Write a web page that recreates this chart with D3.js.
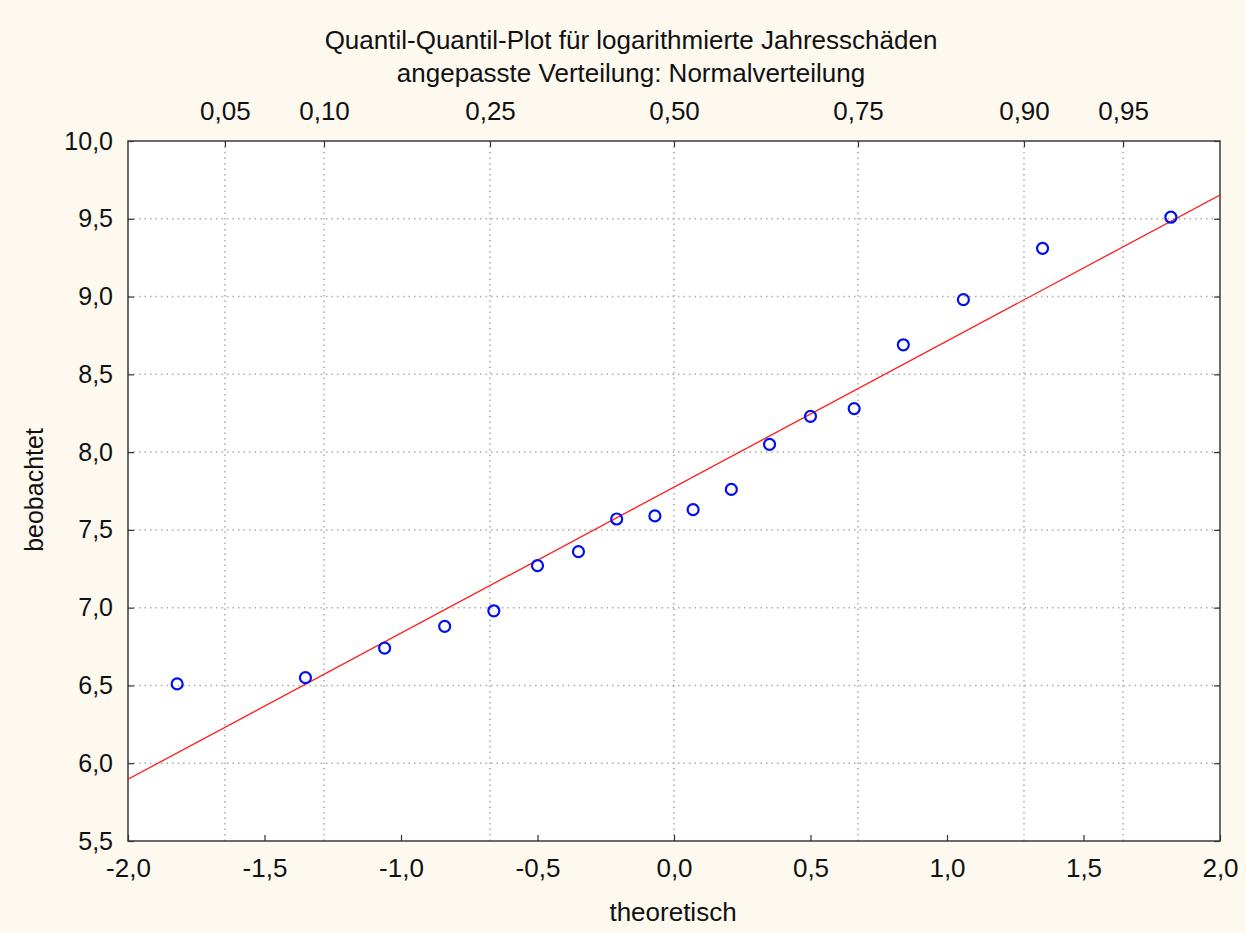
<!DOCTYPE html>
<html>
<head>
<meta charset="utf-8">
<script src="https://cdn.jsdelivr.net/npm/d3@7/dist/d3.min.js"></script>
<style>
  html, body { margin: 0; padding: 0; background: #fdf9ef; }
  svg { display: block; }
  text { font-family: "Liberation Sans", Arial, sans-serif; fill: #111; }
</style>
</head>
<body>
<svg id="chart" width="1246" height="933"></svg>
<script>
// Theoretical normal quantiles (x) and observed log annual losses (y)
const theoretical = [-1.82, -1.35, -1.06, -0.84, -0.66, -0.50, -0.35, -0.21, -0.07,
                      0.07, 0.21, 0.35, 0.50, 0.66, 0.84, 1.06, 1.35, 1.82];
const observed = [6.51, 6.55, 6.74, 6.88, 6.98, 7.27, 7.36, 7.57, 7.59,
                  7.63, 7.76, 8.05, 8.23, 8.28, 8.69, 8.98, 9.31, 9.51];

// Fitted normal reference line: observed = intercept + slope * theoretical
const fitIntercept = 7.775;
const fitSlope = 0.939;

// Axis ticks
const xTicks = [-2.0, -1.5, -1.0, -0.5, 0.0, 0.5, 1.0, 1.5, 2.0];
const yTicks = [5.5, 6.0, 6.5, 7.0, 7.5, 8.0, 8.5, 9.0, 9.5, 10.0];
// Probability scale on top: labels and their standard normal quantiles
const probLabels = ["0,05", "0,10", "0,25", "0,50", "0,75", "0,90", "0,95"];
const probQuantiles = [-1.645, -1.282, -0.674, 0.0, 0.674, 1.282, 1.645];

const titleLines = ["Quantil-Quantil-Plot für logarithmierte Jahresschäden",
                    "angepasste Verteilung: Normalverteilung"];
const xTitle = "theoretisch";
const yTitle = "beobachtet";

// German decimal comma, plain hyphen as minus sign
const fmt = v => v.toFixed(1).replace(".", ",");

const svg = d3.select("#chart");
const plot = { left: 128, right: 1220, top: 141, bottom: 841 };

const x = d3.scaleLinear().domain([-2, 2]).range([plot.left, plot.right]);
const y = d3.scaleLinear().domain([5.5, 10]).range([plot.bottom, plot.top]);

const fontSize = 26;

// plot background
svg.append("rect")
  .attr("x", plot.left).attr("y", plot.top)
  .attr("width", plot.right - plot.left).attr("height", plot.bottom - plot.top)
  .attr("fill", "#ffffff");

// dotted grid: horizontal at y ticks, vertical at probability quantiles
const grid = svg.append("g").attr("stroke", "#acacac").attr("stroke-width", 1.5)
  .attr("stroke-dasharray", "1.5,4");
grid.selectAll("line.h").data(yTicks.slice(1, -1)).join("line")
  .attr("x1", plot.left).attr("x2", plot.right)
  .attr("y1", d => y(d)).attr("y2", d => y(d));
grid.selectAll("line.v").data(probQuantiles).join("line")
  .attr("y1", plot.top).attr("y2", plot.bottom)
  .attr("x1", d => x(d)).attr("x2", d => x(d));

// axes with inward ticks
const tickLen = 6;
const axisBottom = d3.axisBottom(x).tickValues(xTicks).tickFormat(fmt)
  .tickSizeInner(-tickLen).tickSizeOuter(0).tickPadding(18);
const gB = svg.append("g").attr("transform", `translate(0,${plot.bottom})`).call(axisBottom);

const axisLeft = d3.axisLeft(y).tickValues(yTicks).tickFormat(fmt)
  .tickSizeInner(-tickLen).tickSizeOuter(0).tickPadding(15);
const gL = svg.append("g").attr("transform", `translate(${plot.left},0)`).call(axisLeft);

const axisRight = d3.axisRight(y).tickValues(yTicks).tickFormat("")
  .tickSizeInner(-tickLen).tickSizeOuter(0);
const gR = svg.append("g").attr("transform", `translate(${plot.right},0)`).call(axisRight);

const axisTop = d3.axisTop(x).tickValues(probQuantiles)
  .tickFormat((d, i) => probLabels[i])
  .tickSizeInner(-tickLen).tickSizeOuter(0).tickPadding(21);
const gT = svg.append("g").attr("transform", `translate(0,${plot.top})`).call(axisTop);

[gB, gL, gR, gT].forEach(g => {
  g.select(".domain").remove();
  g.selectAll(".tick line").attr("stroke", "#333").attr("stroke-width", 1.2);
  g.selectAll("text").attr("font-size", fontSize).attr("fill", "#111")
    .attr("font-family", '"Liberation Sans", Arial, sans-serif');
});
gL.selectAll("text").attr("font-size", 25);

// frame
svg.append("rect")
  .attr("x", plot.left).attr("y", plot.top)
  .attr("width", plot.right - plot.left).attr("height", plot.bottom - plot.top)
  .attr("fill", "none").attr("stroke", "#3a3a3a").attr("stroke-width", 1.5);

// reference line
svg.append("clipPath").attr("id", "plotclip").append("rect")
  .attr("x", plot.left).attr("y", plot.top)
  .attr("width", plot.right - plot.left).attr("height", plot.bottom - plot.top);
const lineData = x.domain().map(t => [t, fitIntercept + fitSlope * t]);
svg.append("path")
  .attr("clip-path", "url(#plotclip)")
  .attr("d", d3.line().x(d => x(d[0])).y(d => y(d[1]))(lineData))
  .attr("fill", "none").attr("stroke", "#ff1a1a").attr("stroke-width", 1.3);

// observed points
svg.append("g").selectAll("circle")
  .data(theoretical.map((t, i) => [t, observed[i]]))
  .join("circle")
  .attr("cx", d => x(d[0])).attr("cy", d => y(d[1])).attr("r", 5.5)
  .attr("fill", "none").attr("stroke", "#0010ee").attr("stroke-width", 2.2);

// titles
svg.append("text").attr("x", 631).attr("y", 49).attr("text-anchor", "middle")
  .attr("font-size", fontSize).text(titleLines[0]);
svg.append("text").attr("x", 631).attr("y", 82).attr("text-anchor", "middle")
  .attr("font-size", fontSize).text(titleLines[1]);
svg.append("text").attr("x", 673).attr("y", 921).attr("text-anchor", "middle")
  .attr("font-size", fontSize).text(xTitle);
svg.append("text").attr("transform", "translate(43,490) rotate(-90)")
  .attr("text-anchor", "middle").attr("font-size", 25).text(yTitle);
</script>
</body>
</html>
